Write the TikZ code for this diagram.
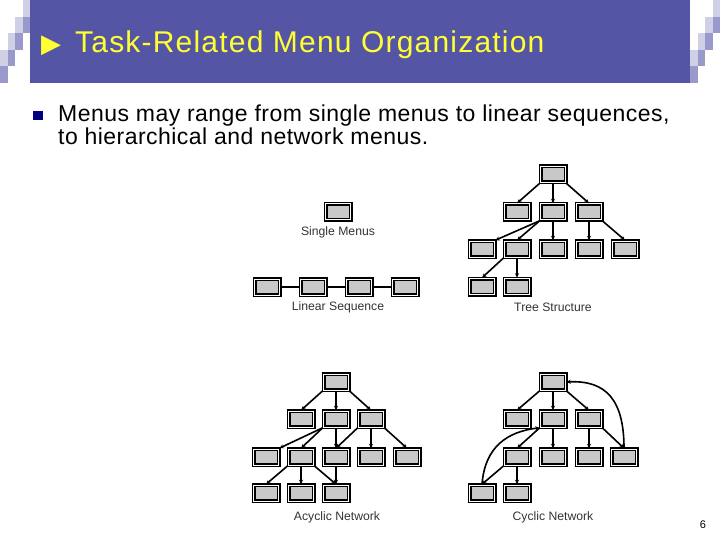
\documentclass[tikz,border=0pt]{standalone}
\usepackage{fontspec}
\setmainfont{Liberation Sans}
\newfontfamily\symfont{DejaVu Sans}
\usetikzlibrary{arrows.meta}

\definecolor{titleblue}{RGB}{85,85,165}
\definecolor{titleyellow}{RGB}{255,255,51}
\definecolor{stairdark}{RGB}{153,153,204}
\definecolor{stairlight}{RGB}{207,207,230}
\definecolor{bulletblue}{RGB}{0,0,128}
\definecolor{menugray}{RGB}{200,200,200}

\tikzset{
	menu/.style={draw, line width=1.5pt, double=white, double distance=1pt, fill=menugray,
		minimum width=25pt, minimum height=16pt, inner sep=0pt},
	link/.style={line width=1.7pt},
	arr/.style={-{Stealth[length=4.5pt,width=4pt]}, line width=1.6pt},
	caption/.style={font=\fontsize{12.2}{14}\selectfont, text=black!80, inner sep=0pt},
}

\begin{document}
\begin{tikzpicture}[x=1pt, y=-1pt]
		\useasboundingbox (0, 0) rectangle (720, 540);
		% title bar and the stairs on both sides
		\fill[titleblue] (30, 0) rectangle (690, 83);
		\foreach \i in {0, ..., 3} {
			\fill[stairlight] (22.5 - 7.5*\i, 16.6*\i) rectangle + (7.5, 16.6);
			\fill[stairdark] (22.5 - 7.5*\i, 16.6*\i + 16.6) rectangle + (7.5, 16.6);
			\fill[stairlight] (712.5 - 7.5*\i, 16.6*\i) rectangle + (7.5, 16.6);
			\fill[stairdark] (712.5 - 7.5*\i, 16.6*\i + 16.6) rectangle + (7.5, 16.6);
		}
		\node[anchor=base west, inner sep=0pt, text=titleyellow, font=\fontsize{30}{32}\selectfont] (title) at (41, 53)
			{{\symfont\fontsize{26}{26}\selectfont ▶}\hspace{14pt}{\addfontfeature{LetterSpace=4}Task-Related Menu Organization}};
		% bullet text
		\fill[bulletblue] (33, 111) rectangle (43, 120);
		\node[anchor=base west, inner sep=0pt, font=\fontsize{23}{25}\selectfont\addfontfeature{LetterSpace=2}] (line1) at (58, 121.5)
			{Menus may range from single menus to linear sequences,};
		\node[anchor=base west, inner sep=0pt, font=\fontsize{23}{25}\selectfont\addfontfeature{LetterSpace=2}] (line2) at (58, 145)
			{to hierarchical and network menus.};
		% single menu and linear sequence
		\node[menu] (s0) at (338, 212) {};
		\node[caption] (capsingle) at (338, 232) {Single Menus};
		\foreach \i/\x in {1/267, 2/313, 3/359, 4/405}
			\node[menu] (l\i) at (\x, 287) {};
		\draw[link] (l1) -- (l2) -- (l3) -- (l4);
		\node[caption] (caplinear) at (338, 307) {Linear Sequence};
		% tree structure
		\foreach \n/\x/\y in {t0/553/174.5, t1a/517/212, t1b/553/212, t1c/589/212,
			t2a/482/249, t2b/517/249, t2c/553/249, t2d/589/249, t2e/625/249, t3a/482/286.5, t3b/517/286.5}
			\node[menu] (\n) at (\x, \y) {};
		\foreach \a/\b in {t0.south west/t1a.north, t0.south/t1b.north, t0.south east/t1c.north,
			t1b.south west/t2a.north east, t1b.south west/t2b.north, t1b.south/t2c.north,
			t1c.south/t2d.north, t1c.south east/t2e.north, t2b.south west/t3a.north, t2b.south/t3b.north}
			\draw[arr] (\a) -- (\b);
		\node[caption] (captree) at (553, 307) {Tree Structure};
		% acyclic network
		\foreach \n/\x/\y in {a0/336/382, a1a/301/419, a1b/336/419, a1c/371/419,
			a2a/266/457, a2b/301/457, a2c/336/457, a2d/371/457, a2e/407/457, a3a/266/493, a3b/301/493, a3c/336/493}
			\node[menu] (\n) at (\x, \y) {};
		\foreach \a/\b in {a0.south west/a1a.north, a0.south/a1b.north, a0.south east/a1c.north,
			a1b.south west/a2a.north east, a1b.south west/a2b.north, a1b.south/a2c.north,
			a1c.south west/a2c.north, a1c.south/a2d.north, a1c.south east/a2e.north,
			a2b.south west/a3a.north, a2b.south/a3b.north, a2b.south east/a3c.north, a2c.south/a3c.north}
			\draw[arr] (\a) -- (\b);
		\node[caption] (capacyclic) at (337, 517) {Acyclic Network};
		% cyclic network
		\foreach \n/\x/\y in {c0/553/382, c1a/517/419, c1b/553/419, c1c/589/419,
			c2a/517/457, c2b/553/457, c2c/589/457, c2d/624/457, c3a/482/493, c3b/517/493}
			\node[menu] (\n) at (\x, \y) {};
		\foreach \a/\b in {c0.south west/c1a.north, c0.south/c1b.north, c0.south east/c1c.north,
			c1b.south west/c2a.north, c1b.south/c2b.north, c1c.south/c2c.north, c1c.south east/c2d.north,
			c2a.south west/c3a.north, c2a.south/c3b.north}
			\draw[arr] (\a) -- (\b);
		\draw[arr] (c3a.north) .. controls +(3, -38) and +(-32, 4) .. (c1b.south west);
		\draw[arr] (c2d.north) .. controls +(0, -48) and +(40, -2) .. (c0.east);
		\node[caption] (capcyclic) at (553, 517) {Cyclic Network};
		% page number
		\node[anchor=base, inner sep=0pt, font=\fontsize{11}{12}\selectfont] (pagenum) at (703, 528) {6};
	\end{tikzpicture}
\end{document}
